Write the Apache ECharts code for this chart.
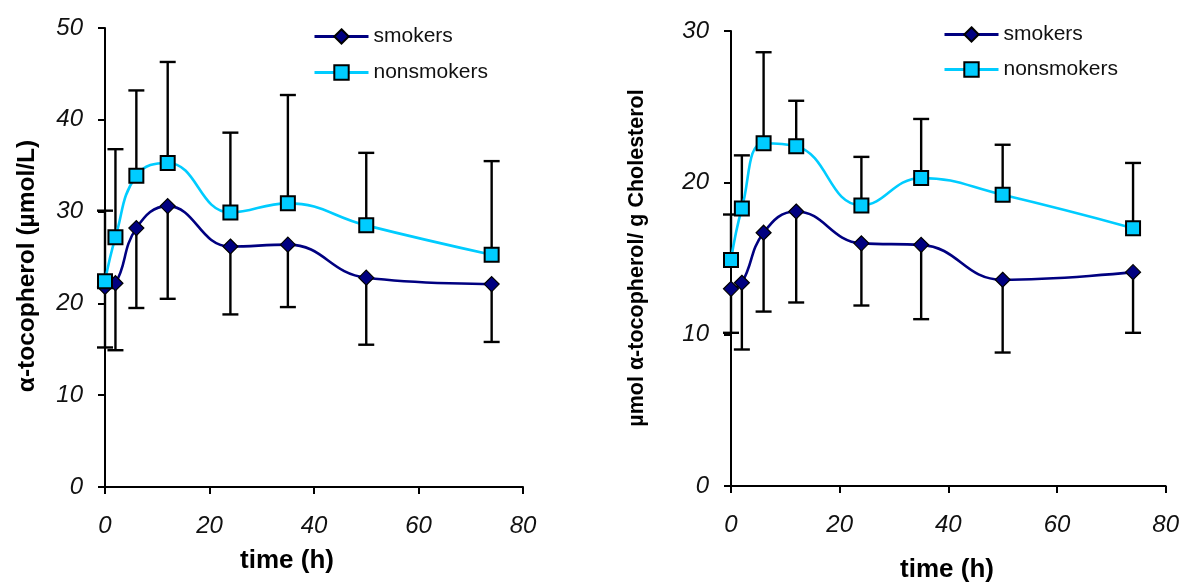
<!DOCTYPE html>
<html>
<head>
<meta charset="utf-8">
<script src="https://cdn.jsdelivr.net/npm/echarts@6/dist/echarts.min.js"></script>
<style>
  html, body { margin: 0; padding: 0; background: #fff; }
  #chart { width: 1182px; height: 583px; }
</style>
</head>
<body>
<div id="chart"></div>
<script>
// Sampling times after the dose (h)
const hours = [0, 2, 6, 12, 24, 35, 50, 74];

// Plasma α-tocopherol (µmol/L), mean and SD
const plasmaSmokers      = [21.8, 22.2, 28.2, 30.6, 26.2, 26.4, 22.8, 22.1];
const plasmaSmokersSD    = [6.6, 7.3, 8.7, 10.1, 7.4, 6.8, 7.3, 6.3];
const plasmaNonsmokers   = [22.4, 27.2, 33.9, 35.3, 29.9, 30.9, 28.5, 25.3];
const plasmaNonsmokersSD = [7.7, 9.6, 9.3, 11.0, 8.7, 11.8, 7.9, 10.2];

// α-tocopherol per g cholesterol (µmol/g), mean and SD
const cholSmokers      = [13.0, 13.4, 16.7, 18.1, 16.0, 15.9, 13.6, 14.1];
const cholSmokersSD    = [2.9, 4.4, 5.2, 6.0, 4.1, 4.9, 4.8, 4.0];
const cholNonsmokers   = [14.9, 18.3, 22.6, 22.4, 18.5, 20.3, 19.2, 17.0];
const cholNonsmokersSD = [3.0, 3.5, 6.0, 3.0, 3.2, 3.9, 3.3, 4.3];

// Axis ranges
const timeAxis   = { min: 0, max: 80, interval: 20 };
const plasmaAxis = { min: 0, max: 50, interval: 10 };
const cholAxis   = { min: 0, max: 30, interval: 10 };

const seriesNames = ['smokers', 'nonsmokers'];

const FONT = '"Liberation Sans", Arial, Helvetica, sans-serif';
const SMOKER_COLOR = '#000080';
const NONSMOKER_COLOR = '#00CCFF';

function pairs(values) {
  return hours.map((t, i) => [t, values[i]]);
}

function xAxisFor(gridIndex) {
  return {
    type: 'value', gridIndex,
    min: timeAxis.min, max: timeAxis.max, interval: timeAxis.interval,
    axisLine: { show: true, onZero: false, lineStyle: { color: '#000', width: 2 } },
    axisTick: { show: true, length: 7, lineStyle: { color: '#000', width: 2 } },
    axisLabel: { fontFamily: FONT, fontStyle: 'italic', fontSize: 24, color: '#111', margin: 27 },
    splitLine: { show: false }
  };
}

function yAxisFor(gridIndex, range) {
  return {
    type: 'value', gridIndex,
    min: range.min, max: range.max, interval: range.interval,
    axisLine: { show: true, onZero: false, lineStyle: { color: '#000', width: 2 } },
    axisTick: { show: true, length: 7, lineStyle: { color: '#000', width: 2 } },
    axisLabel: { fontFamily: FONT, fontStyle: 'italic', fontSize: 24, color: '#111', margin: 22 },
    splitLine: { show: false }
  };
}

function lineSeries(name, values, axisIndex, smoker) {
  return {
    name, type: 'line', xAxisIndex: axisIndex, yAxisIndex: axisIndex,
    data: pairs(values),
    smooth: 0.45,
    z: 3,
    symbol: smoker ? 'diamond' : 'rect',
    symbolSize: smoker ? 15 : 14,
    lineStyle: { color: smoker ? SMOKER_COLOR : NONSMOKER_COLOR, width: 2.6 },
    itemStyle: {
      color: smoker ? SMOKER_COLOR : NONSMOKER_COLOR,
      borderColor: '#000',
      borderWidth: smoker ? 1.2 : 2
    },
    emphasis: { disabled: true }
  };
}

// One-sided error bar: from the mean to mean + dir * SD, with a cap at the end
function errorSeries(values, sds, dir, axisIndex) {
  return {
    type: 'custom', xAxisIndex: axisIndex, yAxisIndex: axisIndex,
    z: 2, silent: true,
    data: hours.map((t, i) => [t, values[i], values[i] + dir * sds[i]]),
    encode: { x: 0, y: [1, 2] },
    renderItem(params, api) {
      const from = api.coord([api.value(0), api.value(1)]);
      const to = api.coord([api.value(0), api.value(2)]);
      const half = 8;
      const style = { stroke: '#000', lineWidth: 2.4 };
      return {
        type: 'group',
        children: [
          { type: 'line', shape: { x1: from[0], y1: from[1], x2: to[0], y2: to[1] }, style },
          { type: 'line', shape: { x1: to[0] - half, y1: to[1], x2: to[0] + half, y2: to[1] }, style }
        ]
      };
    }
  };
}

function legendAt(left, top, gap) {
  return {
    data: seriesNames, orient: 'vertical', left, top, padding: 0,
    itemWidth: 54, itemHeight: 18, itemGap: gap,
    selectedMode: false,
    lineStyle: { width: 3 },
    textStyle: { fontFamily: FONT, fontSize: 21, color: '#111' }
  };
}

function title(text, x, y, size, rotated) {
  return {
    type: 'text', x, y, rotation: rotated ? Math.PI / 2 : 0,
    style: {
      text, fill: '#000', align: 'center', verticalAlign: 'middle',
      font: 'bold ' + size + 'px ' + FONT
    }
  };
}

const chart = echarts.init(document.getElementById('chart'), null, { renderer: 'canvas' });

chart.setOption({
  animation: false,
  backgroundColor: '#fff',
  grid: [
    { left: 105, top: 28, width: 418, height: 459 },
    { left: 731, top: 31, width: 435, height: 455 }
  ],
  xAxis: [xAxisFor(0), xAxisFor(1)],
  yAxis: [yAxisFor(0, plasmaAxis), yAxisFor(1, cholAxis)],
  legend: [legendAt(313, 26, 15), legendAt(943, 24, 14)],
  graphic: [
    title('time (h)', 287, 561, 26, false),
    title('time (h)', 947, 570, 26, false),
    title('α-tocopherol (µmol/L)', 27, 266, 24.5, true),
    title('µmol α-tocopherol/ g Cholesterol', 637, 258, 21.5, true)
  ],
  series: [
    errorSeries(plasmaSmokers, plasmaSmokersSD, -1, 0),
    errorSeries(plasmaNonsmokers, plasmaNonsmokersSD, 1, 0),
    errorSeries(cholSmokers, cholSmokersSD, -1, 1),
    errorSeries(cholNonsmokers, cholNonsmokersSD, 1, 1),
    lineSeries('smokers', plasmaSmokers, 0, true),
    lineSeries('nonsmokers', plasmaNonsmokers, 0, false),
    lineSeries('smokers', cholSmokers, 1, true),
    lineSeries('nonsmokers', cholNonsmokers, 1, false)
  ]
});
</script>
</body>
</html>
